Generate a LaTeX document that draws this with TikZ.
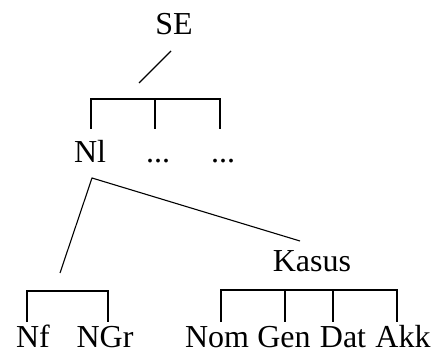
\documentclass[tikz,border=0pt]{standalone}
\usepackage{fontspec}
\setmainfont{Liberation Serif}
\begin{document}
\begin{tikzpicture}[x=1pt,y=-1pt,
  lbl/.style={anchor=base,inner sep=0pt,font=\fontsize{32}{38}\selectfont},
  ln/.style={line width=1.1pt,black}]
\useasboundingbox (0,0) rectangle (434,358);
% text nodes
\node[lbl] (se) at (174,35) {SE};
\node[lbl] (nl) at (90,163) {Nl};
\node[lbl] (d1) at (158,163) {...};
\node[lbl] (d2) at (223,163) {...};
\node[lbl] (kasus) at (312,272) {Kasus};
\node[lbl] (nf) at (33,348) {Nf};
\node[lbl] (ngr) at (105,348) {NGr};
\node[lbl] (nom) at (217,348) {Nom};
\node[lbl] (gen) at (284,348) {Gen};
\node[lbl] (dat) at (343,348) {Dat};
\node[lbl] (akk) at (403,348) {Akk};
% coordinates
\coordinate (s1) at (171,51);
\coordinate (s2) at (139,83);
\coordinate (b1a) at (91,99);
\coordinate (b1b) at (155,99);
\coordinate (b1c) at (220,99);
\coordinate (b1a') at (91,129);
\coordinate (b1b') at (155,129);
\coordinate (b1c') at (220,129);
\coordinate (apex) at (92,178);
\coordinate (lend) at (60,273);
\coordinate (rend) at (300,241);
\coordinate (b2a) at (27,291);
\coordinate (b2b) at (108,291);
\coordinate (b2a') at (27,322);
\coordinate (b2b') at (108,322);
\coordinate (b3a) at (221,290);
\coordinate (b3b) at (285,290);
\coordinate (b3c) at (333,290);
\coordinate (b3d) at (397,290);
\coordinate (b3a') at (221,322);
\coordinate (b3b') at (285,322);
\coordinate (b3c') at (333,322);
\coordinate (b3d') at (397,322);
% connectors
\draw[ln] (s1) -- (s2);
\draw[ln] (b1a') -- (b1a) -- (b1c) -- (b1c');
\draw[ln] (b1b) -- (b1b');
\draw[ln] (lend) -- (apex) -- (rend);
\draw[ln] (b2a') -- (b2a) -- (b2b) -- (b2b');
\draw[ln] (b3a') -- (b3a) -- (b3d) -- (b3d');
\draw[ln] (b3b) -- (b3b');
\draw[ln] (b3c) -- (b3c');
\end{tikzpicture}
\end{document}
